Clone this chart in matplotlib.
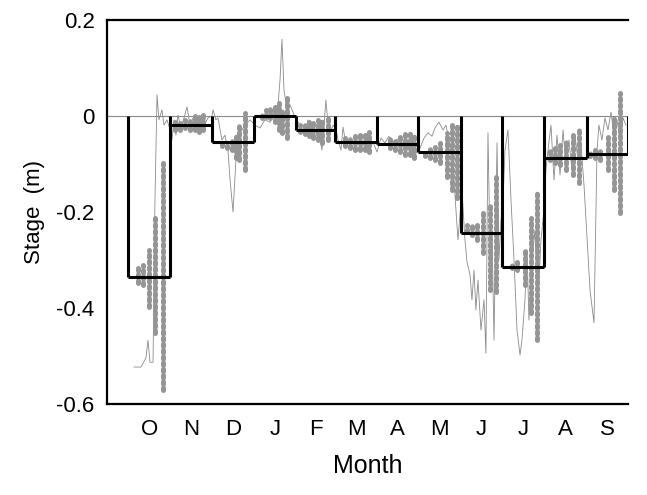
import numpy as np
import matplotlib
matplotlib.use("Agg")
import matplotlib.pyplot as plt

plt.rcParams['font.family'] = ['Liberation Sans', 'DejaVu Sans']

# water year months, Oct..Sep
months = ['O', 'N', 'D', 'J', 'F', 'M', 'A', 'M', 'J', 'J', 'A', 'S']
month_days = [31, 30, 31, 31, 28, 31, 30, 31, 30, 31, 31, 30]
monthly_mean = [-0.335, -0.019, -0.054, 0.0, -0.029, -0.055,
                -0.058, -0.076, -0.243, -0.314, -0.087, -0.079]

# thin line: stage record (day of water year, stage m)
thin_day = [4.4, 9.5, 13.1, 14.6, 16.1, 18.3, 19.7, 21.2, 22.6, 24.8, 26.3, 28.5, 30.7,
            32.1, 33.6, 35.0, 36.5, 38.7, 40.9, 43.1, 45.3, 47.5, 49.6, 52.6, 55.5, 58.4,
            61.3, 62.1, 64.2, 65.7, 68.6, 70.8, 73.0, 74.5, 76.7, 78.8, 80.3, 83.2, 85.4, 89.1,
            92.7, 96.4, 100.0, 103.7, 106.6, 109.5, 111.0, 112.4, 113.9, 116.1, 118.3, 120.5, 121.9,
            125.6, 129.2, 131.4, 133.6, 136.5, 138.7, 141.6, 144.5, 146.7, 149.7, 151.8,
            153.3, 155.5, 157.0, 159.1, 162.1, 165.0, 167.9, 170.1, 173.0, 175.9, 178.9, 181.8,
            184.7, 187.6, 190.5, 193.5, 196.4, 199.3, 202.2, 205.1, 208.1, 211.0, 213.2,
            216.1, 219.0, 221.9, 224.1, 227.0, 230.0, 232.1, 234.3, 236.5, 238.7, 240.9,
            243.8, 246.0, 247.5, 249.7, 251.1, 252.6, 254.0, 255.5, 257.7, 259.9, 261.3, 262.8,
            264.3, 265.7, 267.2, 269.4, 270.8, 272.3, 273.8,
            275.2, 277.4, 279.6, 281.8, 284.0, 286.2, 287.6, 289.8, 291.3, 292.7, 294.9, 297.1,
            299.3, 301.5, 303.7,
            305.1, 306.6, 308.8, 311.0, 313.2, 315.4, 317.6, 319.7, 321.9, 324.1, 326.3, 328.5,
            330.7, 332.9, 337.3, 340.2,
            342.4, 343.8, 346.0, 348.2, 350.4, 352.6, 354.8, 357.0, 359.2, 361.4, 363.5]
thin_stage = [-0.523, -0.523, -0.504, -0.467, -0.513, -0.513, -0.175, 0.044, -0.008, 0.013, -0.019, -0.008, -0.029,
              -0.05, -0.008, -0.04, 0.002, -0.025, -0.004, 0.019, -0.019, -0.004, -0.025, -0.008, -0.021, -0.004,
              0.0, 0.013, -0.008, -0.004, -0.05, -0.04, -0.071, -0.133, -0.20, -0.092, -0.04, -0.029, -0.019, -0.008,
              -0.019, -0.025, -0.008, -0.013, 0.013, 0.023, 0.075, 0.16, 0.054, 0.013, 0.023, 0.008, -0.004,
              -0.019, -0.04, -0.008, -0.029, -0.05, -0.025, -0.071, 0.033, -0.04, -0.019, -0.025,
              -0.05, -0.071, -0.023, -0.06, -0.05, -0.071, -0.04, -0.067, -0.05, -0.071, -0.054, -0.075,
              -0.046, -0.056, -0.042, -0.06, -0.048, -0.063, -0.05, -0.065, -0.056, -0.071, -0.067,
              -0.046, -0.035, -0.042, -0.025, -0.013, -0.029, -0.019, -0.05, -0.092, -0.165, -0.258,
              -0.154, -0.258, -0.304, -0.331, -0.383, -0.321, -0.404, -0.342, -0.446, -0.383, -0.494, -0.035,
              -0.279, -0.238, -0.467, -0.056, -0.30, -0.217, -0.175,
              -0.071, -0.029, -0.175, -0.30, -0.446, -0.498, -0.467, -0.383, -0.279, -0.425, -0.30, -0.238,
              -0.383, -0.258, -0.196,
              -0.113, -0.071, -0.019, -0.133, -0.04, -0.123, -0.029, -0.102, -0.05, -0.113, -0.04, -0.092,
              -0.06, -0.144, -0.363, -0.431,
              -0.071, -0.019, -0.05, -0.004, -0.029, 0.008, -0.04, -0.008, -0.05, -0.004, -0.019]

# thick dotted series: daily ranges (day, top, bottom)
band_day = [7.3, 11.0, 15.3, 19.7, 25.6,
            34.3, 38.0, 41.6, 45.3, 48.9, 51.8, 54.8,
            68.6, 72.3, 75.9, 78.8, 81.0, 85.4,
            97.8, 100.7, 103.7, 107.3, 110.2, 112.4, 116.1,
            125.6, 129.2, 132.1, 135.1, 138.7, 141.6, 146.0,
            158.4, 162.1, 165.7, 169.4, 173.0, 175.9,
            191.3, 194.9, 198.6, 202.2, 205.9, 208.8,
            216.8, 220.5, 224.1, 227.8, 232.9, 236.5, 240.2,
            247.5, 251.1, 254.8, 259.2, 264.3, 268.6,
            280.3, 284.0, 289.8, 294.2, 298.6,
            308.1, 311.7, 315.4, 319.7, 324.9, 329.2,
            337.3, 340.9, 344.6, 350.4, 354.8, 359.2]
band_top = [-0.317, -0.31, -0.279, -0.213, -0.098,
            -0.013, -0.015, -0.008, -0.004, 0.0, 0.002, 0.002,
            -0.054, -0.054, -0.05, -0.04, -0.019, 0.006,
            0.008, 0.013, 0.017, 0.021, 0.027, 0.013, 0.044,
            -0.019, -0.017, -0.013, -0.015, -0.008, -0.004, 0.002,
            -0.046, -0.044, -0.042, -0.04, -0.035, -0.033,
            -0.046, -0.046, -0.042, -0.038, -0.035, -0.04,
            -0.071, -0.067, -0.065, -0.056, -0.035, -0.019, -0.015,
            -0.227, -0.227, -0.221, -0.202, -0.185, -0.123,
            -0.304, -0.304, -0.275, -0.213, -0.154,
            -0.071, -0.067, -0.06, -0.05, -0.035, -0.029,
            -0.071, -0.071, -0.067, -0.044, -0.002, 0.048]
band_bottom = [-0.348, -0.352, -0.398, -0.452, -0.571,
               -0.029, -0.029, -0.025, -0.029, -0.029, -0.033, -0.029,
               -0.063, -0.067, -0.071, -0.088, -0.092, -0.113,
               -0.004, -0.002, -0.004, -0.013, -0.029, -0.035, -0.046,
               -0.033, -0.038, -0.042, -0.046, -0.05, -0.056, -0.05,
               -0.063, -0.067, -0.071, -0.071, -0.071, -0.075,
               -0.067, -0.071, -0.075, -0.081, -0.081, -0.088,
               -0.083, -0.088, -0.092, -0.098, -0.127, -0.154, -0.171,
               -0.242, -0.248, -0.258, -0.285, -0.363, -0.367,
               -0.317, -0.321, -0.352, -0.41, -0.467,
               -0.092, -0.098, -0.102, -0.113, -0.123, -0.14,
               -0.083, -0.088, -0.092, -0.113, -0.154, -0.202]

edges = np.concatenate(([0], np.cumsum(month_days)))
centers = (edges[:-1] + edges[1:]) / 2

fig = plt.figure(figsize=(6.47, 4.95), dpi=100)
ax = fig.add_axes([0.1654, 0.1838, 0.8052, 0.7758])

ax.axhline(0, color='#8a8a8a', lw=0.8, zorder=1)

ax.plot(thin_day, thin_stage, color='#8a8a8a', lw=0.6, zorder=2)
ax.vlines(band_day, band_bottom, band_top, color='#959595', lw=3.6,
          linestyles=(0, (0.5, 0.75)), capstyle='round', zorder=3)

# monthly mean bars, open at the top
ax.hlines(monthly_mean, edges[:-1], edges[1:], color='black', lw=2.2, zorder=4)
for i, e in enumerate(edges):
    left = monthly_mean[i - 1] if i > 0 else 0
    right = monthly_mean[i] if i < len(monthly_mean) else 0
    ax.vlines(e, min(left, right), 0, color='black', lw=2.2, zorder=4)

ax.set_xlim(-15.3, 365)
ax.set_ylim(-0.6, 0.2)
ax.set_xticks(centers)
ax.set_xticklabels(months, fontsize=16)
ax.set_yticks([0.2, 0, -0.2, -0.4, -0.6])
ax.set_yticklabels(['0.2', '0', '-0.2', '-0.4', '-0.6'], fontsize=16)
ax.tick_params(axis='y', length=0, pad=9)
ax.tick_params(axis='x', length=0, pad=11)
ax.set_xlabel('Month', fontsize=18, labelpad=10)
ax.set_ylabel('Stage  (m)', fontsize=16, labelpad=8)

for s in ['left', 'top', 'bottom']:
    ax.spines[s].set_linewidth(1.6)
ax.spines['right'].set_visible(False)

fig.savefig('out.png', dpi=100)
